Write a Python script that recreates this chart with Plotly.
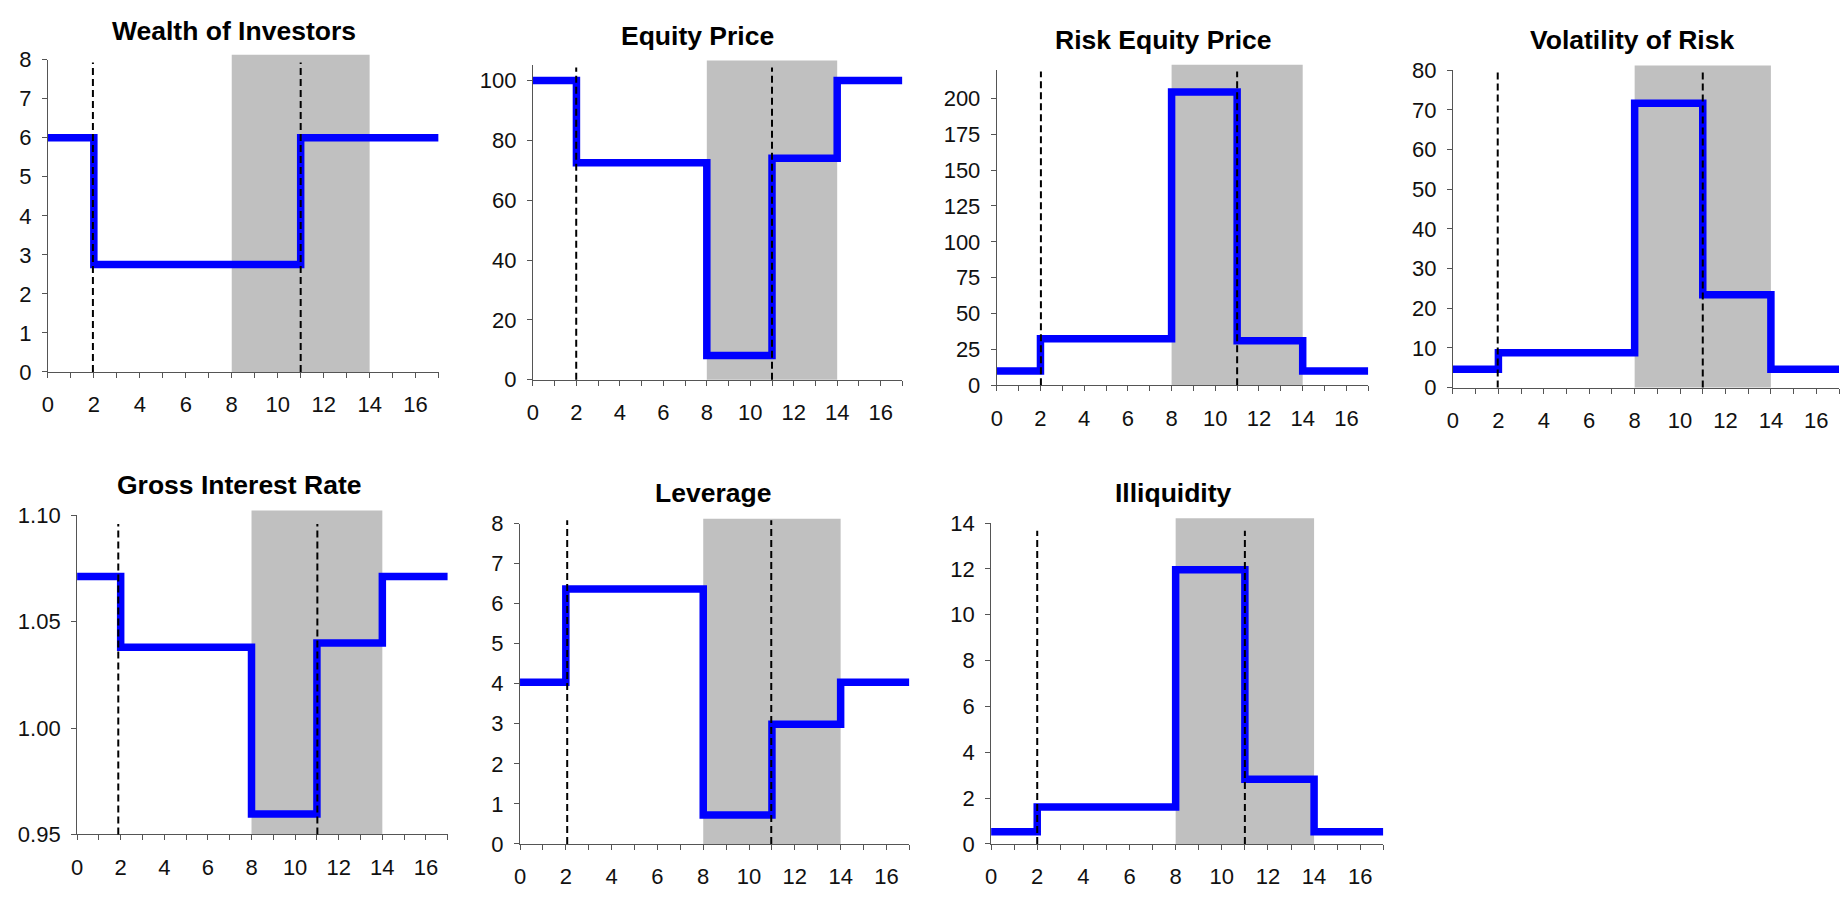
import plotly.graph_objects as go

W, H = 1845, 898

# Regime boundaries shared by every series (step function breakpoints)
periods = [0, 2, 8, 11, 14, 17]
crisis_window = [8, 14]

# Series values on each step (last value repeated to close the final step)
wealth = [6.0, 2.75, 2.75, 6.0, 6.0, 6.0]
equity_price = [100.0, 72.5, 8.1, 74.0, 100.0, 100.0]
risk_equity_price = [10.0, 32.5, 204.5, 31.0, 10.0, 10.0]
volatility_of_risk = [4.6, 8.75, 71.7, 23.4, 4.6, 4.6]
gross_interest_rate = [1.0712, 1.038, 0.9596, 1.040, 1.0712, 1.0712]
leverage = [4.04, 6.37, 0.72, 2.99, 4.04, 4.04]
illiquidity = [0.53, 1.61, 11.96, 2.82, 0.53, 0.53]

titles = ["Wealth of Investors", "Equity Price", "Risk Equity Price",
          "Volatility of Risk", "Gross Interest Rate", "Leverage", "Illiquidity"]
series = [wealth, equity_price, risk_equity_price, volatility_of_risk,
          gross_interest_rate, leverage, illiquidity]
y_ranges = [[0, 8], [0, 105], [0, 220], [0, 80], [0.95, 1.10], [0, 8], [0, 14]]
y_dticks = [1, 20, 25, 10, 0.05, 1, 2]
event_lines = [[1.96, 11.0], [1.99, 11.0], [2.02, 11.0], [1.97, 11.0],
               [1.89, 11.02], [2.06, 10.97], [2.0, 11.0]]

# Panel geometry in pixels: left, right, top, bottom of each plot area
boxes = [
    (42.0, 434.0, 49.0, 370.3),
    (528.7, 899.3, 55.0, 378.3),
    (994.0, 1366.7, 59.3, 384.0),
    (1451.7, 1839.0, 60.0, 386.3),
    (71.3, 443.2, 517.7, 846.0),
    (515.7, 906.3, 526.3, 855.7),
    (988.3, 1381.8, 525.7, 855.7),
]
# Title centres in pixels
title_pos = [(229, 20), (694, 25), (1161, 29), (1631, 29),
             (234, 487), (709, 495), (1171, 495)]
# Offset (px) of dashed-line tops relative to axis top
dash_top = [-3, -2, -2, -2, -9, 3.6, -8]

FONT = "Arial, Liberation Sans, sans-serif"
AXIS_COLOR = "#555555"
TICK_FONT = dict(family=FONT, size=22, color="#111111")

fig = go.Figure()
layout = dict(
    width=W, height=H,
    margin=dict(l=0, r=0, t=0, b=0),
    paper_bgcolor="white", plot_bgcolor="white",
    showlegend=False,
    font=dict(family=FONT, size=22, color="#111111"),
)
shapes = []
annotations = []

for i, (title, vals) in enumerate(zip(titles, series)):
    n = i + 1
    xa = "x" if n == 1 else f"x{n}"
    ya = "y" if n == 1 else f"y{n}"
    left, right, top, bottom = boxes[i]
    h_px = bottom - top

    fig.add_trace(go.Scatter(
        x=periods, y=vals, mode="lines", line_shape="hv",
        line=dict(color="#0000ff", width=7.5),
        xaxis=xa, yaxis=ya, hoverinfo="skip",
    ))

    layout[f"xaxis{'' if n == 1 else n}"] = dict(
        domain=[left / W, right / W], anchor=ya,
        range=[0, 17], tickmode="linear", tick0=0, dtick=2,
        ticks="outside", ticklen=5, tickwidth=1, tickcolor=AXIS_COLOR,
        minor=dict(tickmode="linear", tick0=0, dtick=1, ticks="outside",
                   ticklen=5, tickwidth=1, tickcolor=AXIS_COLOR, showgrid=False),
        showline=True, linecolor=AXIS_COLOR, linewidth=1,
        showgrid=False, zeroline=False, ticklabelstandoff=8,
        tickfont=TICK_FONT,
    )
    yaxis = dict(
        domain=[1 - bottom / H, 1 - top / H], anchor=xa,
        range=y_ranges[i], tickmode="linear", tick0=y_ranges[i][0], dtick=y_dticks[i],
        ticks="outside", ticklen=5, tickwidth=1, tickcolor=AXIS_COLOR,
        showline=True, linecolor=AXIS_COLOR, linewidth=1,
        showgrid=False, zeroline=False, ticklabelstandoff=6,
        tickfont=TICK_FONT,
    )
    if y_dticks[i] < 1:
        yaxis["tickformat"] = ".2f"
    layout[f"yaxis{'' if n == 1 else n}"] = yaxis

    # Crisis period shading, rising slightly above the plot area
    shapes.append(dict(
        type="rect", xref=xa, yref=f"{ya} domain",
        x0=crisis_window[0], x1=crisis_window[1], y0=0, y1=1 + 5 / h_px,
        fillcolor="#c0c0c0", line=dict(width=0), layer="below",
    ))
    # Dashed event markers drawn over the series
    for ex in event_lines[i]:
        shapes.append(dict(
            type="line", xref=xa, yref=f"{ya} domain",
            x0=ex, x1=ex, y0=0, y1=1 + dash_top[i] / h_px,
            line=dict(color="black", width=2, dash="7px,4px"), layer="above",
        ))

    tx, ty = title_pos[i]
    annotations.append(dict(
        text=f"<b>{title}</b>", xref="paper", yref="paper",
        x=tx / W, y=1 - ty / H, xanchor="center", yanchor="middle",
        showarrow=False, font=dict(family=FONT, size=26.5, color="black"),
    ))

layout["shapes"] = shapes
layout["annotations"] = annotations
fig.update_layout(**layout)

fig.write_html("out.html")
